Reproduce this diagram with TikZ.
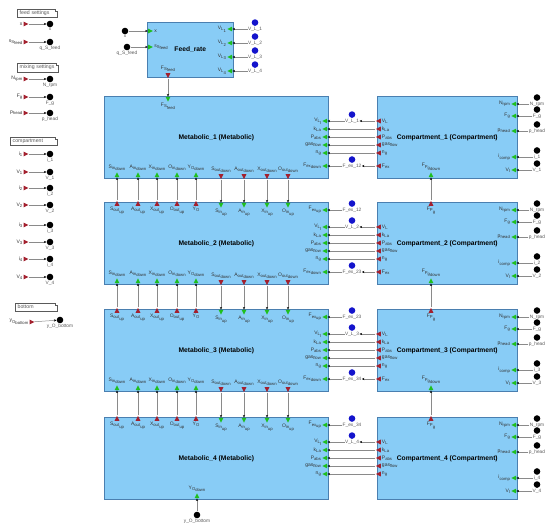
\documentclass[tikz,border=0pt]{standalone}
\usepackage{fontspec}
\setmainfont{Liberation Sans}
\usetikzlibrary{arrows.meta, positioning, shapes.geometric}
\definecolor{skyfill}{HTML}{88CCF6}
\definecolor{steel}{HTML}{4A7FB0}
\definecolor{portgreen}{HTML}{1FBF1F}
\definecolor{portred}{HTML}{A3202E}
\definecolor{dotblue}{HTML}{1414CC}
\definecolor{wiregray}{HTML}{8A8A8A}
\definecolor{inkgray}{HTML}{333333}
\definecolor{tagray}{HTML}{5A5A5A}

\newcommand{\psub}[1]{\raisebox{-1.3pt}{\fontsize{4.2}{4.5}\selectfont #1}}
\newcommand{\portfont}{\fontsize{5}{5.5}\selectfont}
\newcommand{\tagfont}{\fontsize{4.8}{5}\selectfont}

\tikzset{
  port/.style={isosceles triangle, isosceles triangle stretches, inner sep=0pt, minimum width=4.8pt, minimum height=4.8pt},
  inL/.style={port, fill=portgreen, shape border rotate=180},
  inR/.style={port, fill=portgreen, shape border rotate=0},
  inU/.style={port, fill=portgreen, shape border rotate=90},
  inD/.style={port, fill=portgreen, shape border rotate=270},
  outL/.style={port, fill=portred, shape border rotate=180},
  outR/.style={port, fill=portred, shape border rotate=0},
  outU/.style={port, fill=portred, shape border rotate=90},
  outD/.style={port, fill=portred, shape border rotate=270},
  plab/.style={font=\portfont, text=inkgray, inner sep=0.4pt},
  tag/.style={font=\tagfont, text=tagray, inner sep=0.3pt},
  blk/.style={draw=steel, fill=skyfill, line width=0.6pt, anchor=north west, inner sep=0pt, minimum height=82pt, font=\bfseries\fontsize{6.7}{8}\selectfont},
  kdot/.style={circle, fill=black, inner sep=0pt, minimum size=6.6pt},
  bdot/.style={circle, fill=dotblue, inner sep=0pt, minimum size=6.6pt},
  wire/.style={draw=wiregray, line width=0.5pt, -{Stealth[length=2.6pt, width=2.2pt, color=black]}},
  note/.style={font=\fontsize{5.2}{6}\selectfont, text=tagray, anchor=west, align=left, inner xsep=2.5pt, inner ysep=1.6pt},
  noteline/.style={draw=tagray, line width=0.4pt}
}

\begin{document}
\begin{tikzpicture}[x=1pt, y=-1pt]
\useasboundingbox (0,0) rectangle (550,529);
\fill[white] (0,0) rectangle (550,529);

% Settings column
\node[note, text width=35pt] (nfeed) at (17,13) {feed settings};
\node[note, text width=36pt] (nmix) at (17,67.5) {mixing settings};
\node[note, text width=42pt] (ncomp) at (10,141.5) {compartment};
\node[note, text width=37pt] (nbot) at (15,307) {bottom};
\foreach \n in {nfeed,nmix,ncomp,nbot}
  \draw[noteline] (\n.south west) |- ([xshift=-2.5pt]\n.north east) -- ++(0pt,-2pt) -- ++(2.5pt,0pt) |- (\n.south west);

\foreach \s/\lab/\tg/\y in {x/x/x/24, qs/{s\psub{S\psub{feed}}}/q\_S\_feed/42,
    nr/{N\psub{rpm}}/N\_rpm/79, fg/{F\psub{g}}/F\_g/97, ph/{p\psub{head}}/p\_head/113,
    i1/{i\psub{1}}/i\_1/154, v1/{V\psub{1}}/V\_1/172, i2/{i\psub{2}}/i\_2/188, v2/{V\psub{2}}/V\_2/205,
    i3/{i\psub{3}}/i\_3/225, v3/{V\psub{3}}/V\_3/242, i4/{i\psub{4}}/i\_4/259, v4/{V\psub{4}}/V\_4/277}{
  \node[outR] (src-\s) at (25,\y) {};
  \node[plab, left=0.4pt of src-\s] (src-\s-l) {\lab};
  \node[kdot] (go-\s) at (50,\y) {};
  \node[tag, below=0.2pt of go-\s] (go-\s-t) {\tg};
  \draw[wire] (src-\s) -- (go-\s);
}
\node[outR] (src-yo) at (31,322) {};
\node[plab, left=0.4pt of src-yo] (src-yo-l) {y\psub{O\psub{bottom}}};
\node[kdot] (go-yo) at (60,320) {};
\node[tag, below=0.2pt of go-yo] (go-yo-t) {y\_O\_bottom};
\draw[wire] (src-yo) -- (go-yo);

% Feed rate
\node[blk, minimum width=86pt, minimum height=55pt] (feed) at (147,22) {Feed\_rate};
\node[inR] (feed-x) at (149.5,31) {};
\node[plab, right=0.4pt of feed-x] (feed-x-l) {x};
\node[inR] (feed-qs) at (149.5,47) {};
\node[plab, right=0.4pt of feed-qs] (feed-qs-l) {s\psub{S\psub{feed}}};
\node[kdot] (in-x) at (125,31) {};
\node[tag, below=0.2pt of in-x] (in-x-t) {x};
\node[kdot] (in-qs) at (127,47) {};
\node[tag, below=0.2pt of in-qs] (in-qs-t) {q\_S\_feed};
\draw[wire] (in-x) -- (feed-x);
\draw[wire] (in-qs) -- (feed-qs);
\foreach \i/\y in {1/29,2/43,3/57,4/71}{
  \node[inL] (feed-v\i) at (230.7,\y) {};
  \node[plab, left=0.4pt of feed-v\i] (feed-v\i-l) {V\psub{L\psub{\i}}};
  \node[tag] (fv\i) at (255,\y) {V\_L\_\i};
  \node[bdot, above=0.3pt of fv\i] (fv\i-dot) {};
  \draw[wire] (fv\i) -- (feed-v\i);
}
\node[outD] (feed-fs) at (168,74.7) {};
\node[plab, above=0.4pt of feed-fs] (feed-fs-l) {F\psub{S\psub{feed}}};

% Metabolic and compartment rows
\foreach \k/\T in {1/96,2/202,3/309,4/417}{
  \pgfmathtruncatemacro\prev{\k-1}
  \pgfmathtruncatemacro\nk{\k+1}
  \begin{scope}[shift={(0,\T)}]
    \node[blk, minimum width=224pt] (m\k) at (104,0) {Metabolic\_\k\ (Metabolic)};
    \node[blk, minimum width=140pt] (c\k) at (377,0) {Compartment\_\k\ (Compartment)};
    % liquid and gas signals
    \foreach \p/\ml/\cl/\dy in {vl/{V\psub{L\psub{l}}}/{V\psub{L}}/25, kla/{k\psub{La}}/{k\psub{La}}/33,
        pabs/{P\psub{abs}}/{P\psub{abs}}/41, gas/{gas\psub{flow}}/{gas\psub{flow}}/49, ng/{n\psub{g}}/{n\psub{g}}/57}{
      \node[inL] (m\k-\p) at (325.7,\dy) {};
      \node[plab, left=0.4pt of m\k-\p] (m\k-\p-l) {\ml};
      \node[outL] (c\k-\p) at (379.3,\dy) {};
      \node[plab, right=0.4pt of c\k-\p] (c\k-\p-l) {\cl};
    }
    \foreach \p in {kla,pabs,gas,ng}
      \draw[wire] (c\k-\p) -- (m\k-\p);
    \node[tag] (vl\k) at (352,25) {V\_L\_\k};
    \node[bdot, above=0.3pt of vl\k] (vl\k-dot) {};
    \draw[wire] (c\k-vl) -- (vl\k);
    \draw[wire] (vl\k) -- (m\k-vl);
    % mixing inputs
    \foreach \p/\lab/\tg/\dy in {nr/{N\psub{rpm}}/N\_rpm/8, fg/{F\psub{g}}/F\_g/20, ph/{p\psub{head}}/p\_head/35,
        ic/{i\psub{comp}}/i\_\k/61, vv/{V\psub{l}}/V\_\k/74}{
      \node[inL] (c\k-\p) at (514.7,\dy) {};
      \node[plab, left=0.4pt of c\k-\p] (c\k-\p-l) {\lab};
      \node[tag] (c\k-\p-t) at (537,\dy) {\tg};
      \node[kdot, above=0.3pt of c\k-\p-t] (c\k-\p-dot) {};
      \draw[wire] (c\k-\p-t) -- (c\k-\p);
    }
    \ifnum\k=1
      \node[inD] (m1-fs) at (168,2.3) {};
      \node[plab, below=0.4pt of m1-fs] (m1-fs-l) {F\psub{S\psub{feed}}};
      \draw[wire] (feed-fs) -- (m1-fs);
    \else
      % top ports
      \foreach \i/\x/\lab in {1/117/{S\psub{out\psub{up}}}, 2/138/{A\psub{out\psub{up}}}, 3/157/{X\psub{out\psub{up}}},
          4/177/{O\psub{out\psub{up}}}, 5/196/{Y\psub{O}}}{
        \node[outU] (m\k-to\i) at (\x,2.3) {};
        \node[plab, below=0.4pt of m\k-to\i] (m\k-to\i-l) {\lab};
      }
      \foreach \i/\x/\lab in {1/221/S, 2/244/A, 3/267/X, 4/288/O}{
        \node[inD] (m\k-ti\i) at (\x,2.3) {};
        \node[plab, below=0.4pt of m\k-ti\i] (m\k-ti\i-l) {\lab\psub{in\psub{up}}};
      }
      \foreach \i in {1,...,5}
        \draw[wire] (m\k-to\i) -- (m\prev-bi\i);
      \foreach \i in {1,...,4}
        \draw[wire] (m\prev-bo\i) -- (m\k-ti\i);
      \node[inL] (m\k-fxu) at (325.7,8) {};
      \node[plab, left=0.4pt of m\k-fxu] (m\k-fxu-l) {F\psub{ex\psub{up}}};
      \node[tag] (fxu\k) at (352,8) {F\_ex\_\prev\k};
      \node[bdot, above=0.3pt of fxu\k] (fxu\k-dot) {};
      \draw[wire] (fxu\k) -- (m\k-fxu);
      \node[outU] (c\k-fpg) at (431,2.3) {};
      \node[plab, below=0.4pt of c\k-fpg] (c\k-fpg-l) {F\psub{P\psub{g}}};
      \draw[wire] (c\k-fpg) -- (c\prev-fpgd);
    \fi
    \ifnum\k<4
      % bottom ports
      \foreach \i/\x/\lab in {1/117/{S\psub{in\psub{down}}}, 2/138/{A\psub{in\psub{down}}}, 3/157/{X\psub{in\psub{down}}},
          4/177/{O\psub{in\psub{down}}}, 5/196/{Y\psub{O\psub{down}}}}{
        \node[inU] (m\k-bi\i) at (\x,79.7) {};
        \node[plab, above=0.4pt of m\k-bi\i] (m\k-bi\i-l) {\lab};
      }
      \foreach \i/\x/\lab in {1/221/S, 2/244/A, 3/267/X, 4/288/O}{
        \node[outD] (m\k-bo\i) at (\x,79.7) {};
        \node[plab, above=0.4pt of m\k-bo\i] (m\k-bo\i-l) {\lab\psub{out\psub{down}}};
      }
      \node[inL] (m\k-fxd) at (325.7,70) {};
      \node[plab, left=0.4pt of m\k-fxd] (m\k-fxd-l) {F\psub{ex\psub{down}}};
      \node[outL] (c\k-fx) at (379.3,70) {};
      \node[plab, right=0.4pt of c\k-fx] (c\k-fx-l) {F\psub{ex}};
      \node[tag] (fxd\k) at (352,70) {F\_ex\_\k\nk};
      \node[bdot, above=0.3pt of fxd\k] (fxd\k-dot) {};
      \draw[wire] (c\k-fx) -- (fxd\k);
      \draw[wire] (fxd\k) -- (m\k-fxd);
      \node[inU] (c\k-fpgd) at (431,79.7) {};
      \node[plab, above=0.4pt of c\k-fpgd] (c\k-fpgd-l) {F\psub{P\psub{g\psub{down}}}};
    \else
      \node[inU] (m4-yod) at (197,79.7) {};
      \node[plab, above=0.4pt of m4-yod] (m4-yod-l) {Y\psub{O\psub{down}}};
      \node[kdot] (yob) at (197,98) {};
      \node[tag, below=0.2pt of yob] (yob-t) {y\_O\_bottom};
      \draw[wire] (yob) -- (m4-yod);
    \fi
  \end{scope}
}

\end{tikzpicture}
\end{document}
